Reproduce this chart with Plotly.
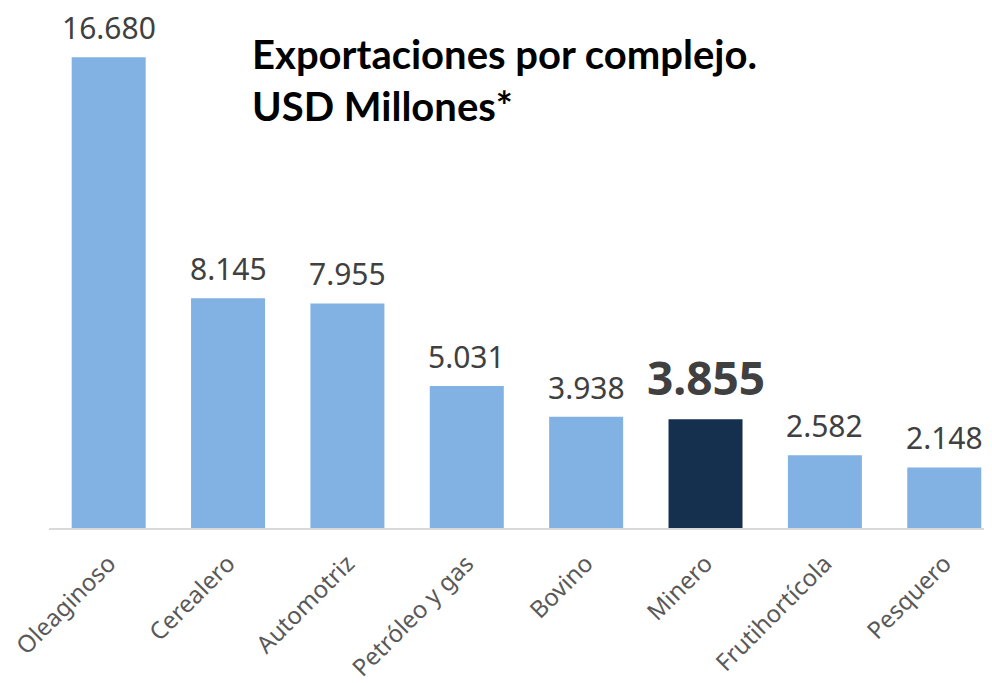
import plotly.graph_objects as go

categories = ["Oleaginoso", "Cerealero", "Automotriz", "Petróleo y gas", "Bovino", "Minero", "Frutihortícola", "Pesquero"]
values = [16680, 8145, 7955, 5031, 3938, 3855, 2582, 2148]
labels = ["16.680", "8.145", "7.955", "5.031", "3.938", "3.855", "2.582", "2.148"]
highlight = "Minero"

colors = ["#15304F" if c == highlight else "#82B1E3" for c in categories]

fig = go.Figure(go.Bar(
    x=categories, y=values, marker=dict(color=colors, line=dict(width=0)),
    width=0.62, hoverinfo="x+y",
))

annotations = []
for c, v, lab in zip(categories, values, labels):
    big = c == highlight
    annotations.append(dict(
        x=c, y=v, xref="x", yref="y", text=f"<b>{lab}</b>" if big else lab,
        showarrow=False, xanchor="center", yanchor="bottom",
        yshift=9 if big else 7,
        font=dict(family="Noto Sans", size=46 if big else 30, color="#404040"),
    ))

annotations.append(dict(
    text="<b>Exportaciones por complejo.<br>USD Millones*</b>",
    xref="paper", yref="paper", x=0.213, y=0.985, xanchor="left", yanchor="top",
    align="left", showarrow=False,
    font=dict(family="Lato", size=40, color="#000000"),
))

fig.update_layout(
    width=992, height=683,
    margin=dict(l=41, r=8, t=12, b=163),
    plot_bgcolor="white", paper_bgcolor="white",
    showlegend=False,
    xaxis=dict(range=[-0.5, 7.4], tickangle=-45, showline=True, linecolor="#D9D9D9", linewidth=2,
               tickfont=dict(family="Noto Sans", size=24, color="#595959"), ticks="",
               ticklabelstandoff=10, automargin=False),
    yaxis=dict(range=[0, 18000], visible=False, showgrid=False, automargin=False),
    annotations=annotations,
)

fig.write_html("out.html")
